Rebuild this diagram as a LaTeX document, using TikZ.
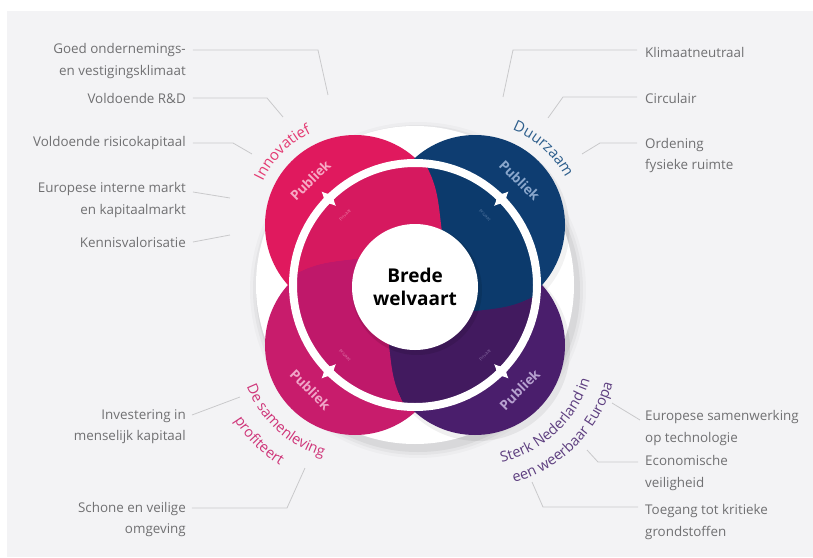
\documentclass[tikz,border=0pt]{standalone}
\usepackage{fontspec}
\setmainfont{Open Sans}
\usetikzlibrary{decorations.text,calc}
\definecolor{bg}{HTML}{F3F3F5}
\definecolor{cpink}{HTML}{E0195E}
\definecolor{cpinkin}{HTML}{D6195F}
\definecolor{cblue}{HTML}{0E3D71}
\definecolor{cbluein}{HTML}{0C3A6C}
\definecolor{cpurple}{HTML}{4A1E6C}
\definecolor{cpurplein}{HTML}{421A5F}
\definecolor{cmag}{HTML}{C81C6C}
\definecolor{cmagin}{HTML}{BF186A}
\definecolor{lbl}{HTML}{707072}
\definecolor{lead}{HTML}{C9C9CB}
\definecolor{tpink}{HTML}{E43A72}
\definecolor{tblue}{HTML}{2D5E8C}
\definecolor{tmag}{HTML}{CF3579}
\definecolor{tpurple}{HTML}{5E3F80}
\definecolor{ppink}{HTML}{F7A9C4}
\definecolor{pblue}{HTML}{8AA7CC}
\definecolor{pmag}{HTML}{F0A6C8}
\definecolor{ppurple}{HTML}{B7A2D0}
\begin{document}
\begin{tikzpicture}[x=1pt,y=1pt,
  lab/.style={font=\fontsize{13.4}{21.5}\selectfont, text=lbl, inner sep=0pt},
  labL/.style={lab, anchor=east, align=right},
  labR/.style={lab, anchor=west, align=left},
  leader/.style={draw=lead, line width=0.8pt},
  publ/.style={font=\fontsize{13.5}{15}\selectfont\bfseries, inner sep=0pt},
  priv/.style={font=\fontsize{4.5}{5}\selectfont, inner sep=0pt},
  notch/.style={fill=white},
]
\useasboundingbox (-415,-272) rectangle (398,285);
\fill[white] (-415,-272) rectangle (398,285);
\fill[bg] (-408,-272) rectangle (398,274);

% ---------- left labels ----------
\node[labL] (goed) at (-229,224) {Goed ondernemings-\\en vestigingsklimaat};
\coordinate (g1) at (-97,235); \coordinate (g2) at (-87,190);
\draw[leader] ([xshift=7pt]goed.east |- g1) -- (g1) -- (g2);

\node[labL] (rd) at (-229,187) {Voldoende R\&D};
\coordinate (r1) at (-148,187); \coordinate (r2) at (-132,168);
\draw[leader] ([xshift=7pt]rd.east) -- (r1) -- (r2);

\node[labL] (risico) at (-229,142) {Voldoende risicokapitaal};
\coordinate (k1) at (-182,142); \coordinate (k2) at (-163,131);
\draw[leader] ([xshift=7pt]risico.east) -- (k1) -- (k2);

\node[labL] (euro) at (-229,85) {Europese interne markt\\en kapitaalmarkt};
\coordinate (e0) at (-222,93); \coordinate (e1) at (-185,87);
\draw[leader] ([xshift=7pt]euro.east |- e0) -- (e1);

\node[labL] (kennis) at (-229,43) {Kennisvalorisatie};
\coordinate (v1) at (-185,50);
\draw[leader] ([xshift=7pt]kennis.east) -- (v1);

\node[labL] (invest) at (-229,-141.5) {Investering in\\menselijk kapitaal};
\coordinate (i0) at (-223,-130); \coordinate (i1) at (-175,-112);
\draw[leader] ([xshift=6pt]invest.east |- i0) -- (i1);

\node[labL] (schone) at (-229,-234.5) {Schone en veilige\\omgeving};
\coordinate (s1) at (-128,-223); \coordinate (s2) at (-110,-183);
\draw[leader] ([xshift=6pt]schone.east |- s1) -- (s1) -- (s2);

% ---------- right labels ----------
\node[labR] (klimaat) at (230,233) {Klimaatneutraal};
\coordinate (m1) at (98,235); \coordinate (m2) at (88,188);
\draw[leader] ([xshift=-8pt]klimaat.west |- m1) -- (m1) -- (m2);

\node[labR] (circ) at (230,187) {Circulair};
\coordinate (c1) at (148,188); \coordinate (c2) at (133,167);
\draw[leader] ([xshift=-8pt]circ.west |- c1) -- (c1) -- (c2);

\node[labR] (orden) at (230,129.5) {Ordening\\fysieke ruimte};
\coordinate (o1) at (185,142); \coordinate (o2) at (167,131);
\draw[leader] ([xshift=-8pt]orden.west |- o1) -- (o1) -- (o2);

\node[labR] (eursam) at (230,-143) {Europese samenwerking\\op technologie};
\coordinate (u0) at (225,-135); \coordinate (u1) at (197,-118);
\draw[leader] ([xshift=-5pt]eursam.west |- u0) -- (u1);

\node[labR] (econ) at (230,-188) {Economische\\veiligheid};
\coordinate (n1) at (183,-177); \coordinate (n2) at (172,-165);
\draw[leader] ([xshift=-7pt]econ.west |- n1) -- (n1) -- (n2);

\node[labR] (toeg) at (230,-237) {Toegang tot kritieke\\grondstoffen};
\coordinate (t1) at (128,-222); \coordinate (t2) at (117,-197);
\draw[leader] ([xshift=-7pt]toeg.west |- t1) -- (t1) -- (t2);

% ---------- white disc with soft shadow ----------
\foreach \r/\o in {168/0.025,165/0.035,162/0.05}
  \fill[black,opacity=\o] (3,-5) circle (\r);
\fill[white] (0,0) circle (159);

% ---------- petals ----------
\fill[black,opacity=0.06] (63,-64) circle (92);
\fill[black,opacity=0.05] (63,56) circle (91.5);
\fill[cmag] (-60,-60) circle (90);
\fill[cpurple] (60,-60) circle (90);
\fill[cpink] (-60,60) circle (90);
\fill[cblue] (60,60) circle (90);

% ---------- pinwheel inside the ring ----------
\fill[cbluein] (0,0) -- (62:58) to[out=98,in=-61] (85:121)
  arc[start angle=85,end angle=-5,radius=121]
  to[out=-151,in=8] (-28:58) -- cycle;
\fill[cpurplein] (0,0) -- (-28:58) to[out=8,in=-151] (-5:121)
  arc[start angle=-5,end angle=-95,radius=121]
  to[out=-241,in=-82] (-118:58) -- cycle;
\fill[cmagin] (0,0) -- (-118:58) to[out=-82,in=-241] (-95:121)
  arc[start angle=-95,end angle=-185,radius=121]
  to[out=-331,in=-172] (-208:58) -- cycle;
\fill[cpinkin] (0,0) -- (-208:58) to[out=-172,in=-331] (-185:121)
  arc[start angle=-185,end angle=-275,radius=121]
  to[out=-421,in=-262] (-298:58) -- cycle;

% ---------- ring with notches ----------
\draw[white, line width=8pt] (0,0) circle (122);
\foreach \a in {45,135,225,315}
  \fill[notch, shift={(\a:122)}, rotate=\a]
    (10,0) .. controls (3,3) .. (0,9) .. controls (-3,3) .. (-10,0)
    .. controls (-3,-3) .. (0,-9) .. controls (3,-3) .. (10,0) -- cycle;

% ---------- centre ----------
\fill[black,opacity=0.10] (2,-5) circle (65);
\fill[white] (0,-2) circle (63);
\node[font=\fontsize{19}{23}\selectfont\bfseries, align=center, text=black] (brede) at (0,-2) {Brede\\welvaart};

% ---------- Publiek / Privaat ----------
\node[publ, text=ppink, rotate=45] (pub1) at (135:148) {Publiek};
\node[publ, text=pblue, rotate=-45] (pub2) at (45:148) {Publiek};
\node[publ, text=pmag, rotate=-45] (pub3) at (225:148) {Publiek};
\node[publ, text=ppurple, rotate=45] (pub4) at (-45:148) {Publiek};
\node[priv, text=ppink!70!cpinkin, rotate=45] (pri1) at (135:99) {Privaat};
\node[priv, text=pblue!60!cbluein, rotate=-45] (pri2) at (45:99) {Privaat};
\node[priv, text=pmag!70!cmagin, rotate=-45] (pri3) at (225:99) {Privaat};
\node[priv, text=ppurple!60!cpurplein, rotate=45] (pri4) at (-45:99) {Privaat};

% ---------- curved labels ----------
\path[decorate, decoration={text along path, text align=center, text color=tpink,
  text={|\fontsize{15}{17}\selectfont|Innovatief}}]
  (-60,60) ++(175:102) arc[start angle=175,end angle=95,radius=102];
\path[decorate, decoration={text along path, text align=center, text color=tblue,
  text={|\fontsize{15}{17}\selectfont|Duurzaam}}]
  (60,60) ++(88:102) arc[start angle=88,end angle=8,radius=102];
\path[decorate, decoration={text along path, text align=center, text color=tmag,
  text={|\fontsize{14.5}{17}\selectfont|De samenleving}}]
  (-60,-60) ++(180:116) arc[start angle=180,end angle=275,radius=116];
\path[decorate, decoration={text along path, text align=center, text color=tmag,
  text={|\fontsize{14.5}{17}\selectfont|profiteert}}]
  (-60,-60) ++(180:142) arc[start angle=180,end angle=270,radius=142];
\path[decorate, decoration={text along path, text align=center, text color=tpurple,
  text={|\fontsize{14.5}{17}\selectfont|Sterk Nederland in}}]
  (60,-60) ++(-92:120) arc[start angle=-92,end angle=-2,radius=120];
\path[decorate, decoration={text along path, text align=center, text color=tpurple,
  text={|\fontsize{14.5}{17}\selectfont|een weerbaar Europa}}]
  (60,-60) ++(-90:143) arc[start angle=-90,end angle=0,radius=143];
\end{tikzpicture}
\end{document}
